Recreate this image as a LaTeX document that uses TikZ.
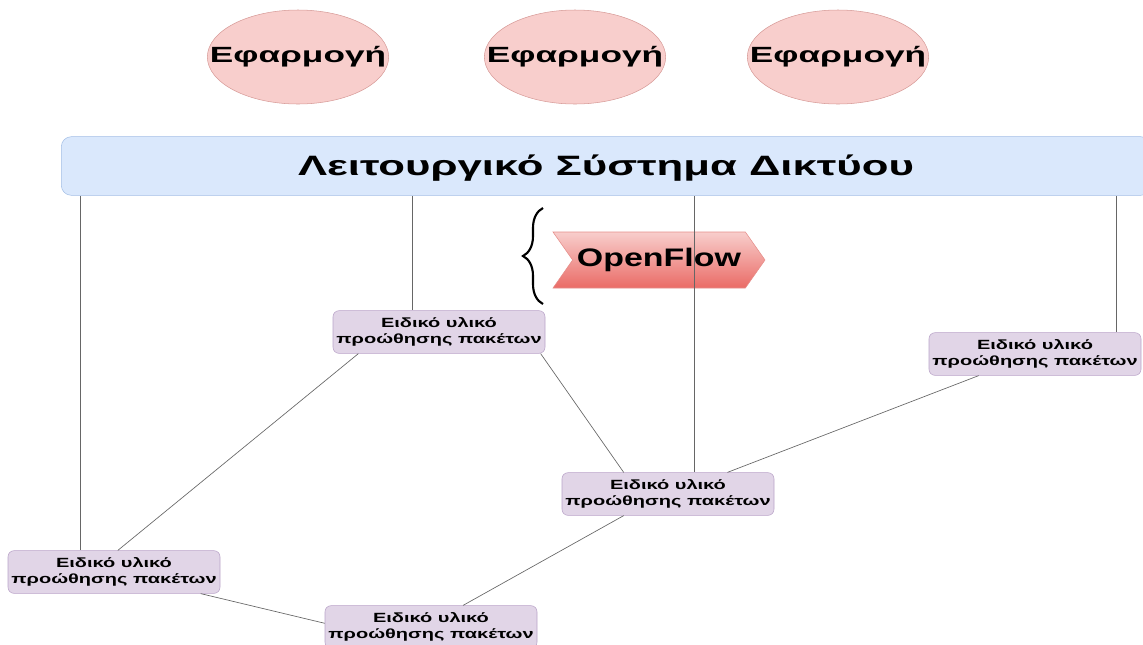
\documentclass[tikz,border=0pt]{standalone}
\usepackage{fontspec}
\setmainfont{Liberation Sans}
\newfontfamily\appfnt[FakeStretch=1.6]{Liberation Sans}
\newfontfamily\osfnt[FakeStretch=1.56]{Liberation Sans}
\newfontfamily\flowfnt[FakeStretch=1.34]{Liberation Sans}
\newfontfamily\swfnt[FakeStretch=1.5]{Liberation Sans}
\usetikzlibrary{
	positioning,
	shapes.geometric,
	shapes.symbols,
	decorations.pathreplacing
}
\definecolor{appfill}{HTML}{F8CECC}
\definecolor{appdraw}{HTML}{D79B98}
\definecolor{osfill}{HTML}{DAE8FC}
\definecolor{osdraw}{HTML}{A3BEE6}
\definecolor{swfill}{HTML}{E1D5E7}
\definecolor{swdraw}{HTML}{B9A3C8}
\definecolor{flowtop}{HTML}{F8CECC}
\definecolor{flowbot}{HTML}{EA6B66}
\definecolor{flowdraw}{HTML}{E58E8A}
\definecolor{linkcolor}{HTML}{666666}
\tikzset{
	appnode/.style={
		ellipse,
		draw=appdraw,
		fill=appfill,
		minimum width=135pt,
		minimum height=70.5pt,
		inner xsep=-18pt,
		inner ysep=0pt,
		font=\appfnt\fontsize{16.5}{19}\selectfont\bfseries
	},
	osnode/.style={
		draw=osdraw,
		fill=osfill,
		rounded corners=7.5pt,
		minimum width=817pt,
		minimum height=44pt,
		inner sep=0pt,
		text height=15pt,
		text depth=1pt,
		font=\osfnt\fontsize{21}{24}\selectfont\bfseries
	},
	swnode/.style={
		draw=swdraw,
		fill=swfill,
		rounded corners=4.5pt,
		minimum width=159pt,
		minimum height=32pt,
		inner sep=0pt,
		align=center,
		font=\swfnt\fontsize{10}{12}\selectfont\bfseries
	},
	flownode/.style={
		signal,
		signal to=east,
		signal from=west,
		signal pointer angle=110,
		draw=flowdraw,
		top color=flowtop,
		bottom color=flowbot,
		minimum width=159pt,
		minimum height=42pt,
		inner sep=0pt,
		font=\flowfnt\fontsize{19}{22}\selectfont\bfseries
	},
	link/.style={
		color=linkcolor,
		line width=0.5pt
	},
	bracket/.style={
		decorate,
		decoration={brace, amplitude=15pt},
		line width=1.6pt
	}
}

\begin{document}
\begin{tikzpicture}[x=0.75pt, y=-0.75pt]
	\clip (0,0) rectangle (1143,644);
	
	% Applications
	\node[appnode] (app1) at (298,57) {Εφαρμογή};
	\node[appnode] (app2) at (575,57) {Εφαρμογή};
	\node[appnode] (app3) at (838,57) {Εφαρμογή};
	
	% Network OS
	\node[osnode] (nos) at (606,166) {Λειτουργικό Σύστημα Δικτύου};
	
	% OpenFlow
	\node[flownode] (flow) at (659,260) {OpenFlow};
	\coordinate (brbot) at (543,304);
	\coordinate (brtop) at (543,208);
	\draw[bracket] (brbot) -- (brtop);
	
	% Forwarding hardware
	\node[swnode] (sw1) at (439,332) {Ειδικό υλικό\\προώθησης πακέτων};
	\node[swnode] (sw2) at (1035,354) {Ειδικό υλικό\\προώθησης πακέτων};
	\node[swnode] (sw3) at (668,494) {Ειδικό υλικό\\προώθησης πακέτων};
	\node[swnode] (sw4) at (114,572) {Ειδικό υλικό\\προώθησης πακέτων};
	\node[swnode] (sw5) at (431,627) {Ειδικό υλικό\\προώθησης πακέτων};
	
	% Links to the NOS
	\coordinate (n1) at (80,196);
	\coordinate (n2) at (412,196);
	\coordinate (n3) at (694,196);
	\coordinate (n4) at (1116,196);
	\draw[link] (n1) -- (n1 |- sw4.north);
	\draw[link] (n2) -- (n2 |- sw1.north);
	\draw[link] (n3) -- (n3 |- sw3.north);
	\draw[link] (n4) -- (n4 |- sw2.north);
	
	% Links between switches
	\draw[link] (sw1.195) -- (sw4.80);
	\draw[link] (sw1.348) -- (sw3.154);
	\draw[link] (sw2.201) -- (sw3.20);
	\draw[link] (sw3.206) -- (sw5.34);
	\draw[link] (sw4.346) -- (sw5.178);
	
\end{tikzpicture}
\end{document}
